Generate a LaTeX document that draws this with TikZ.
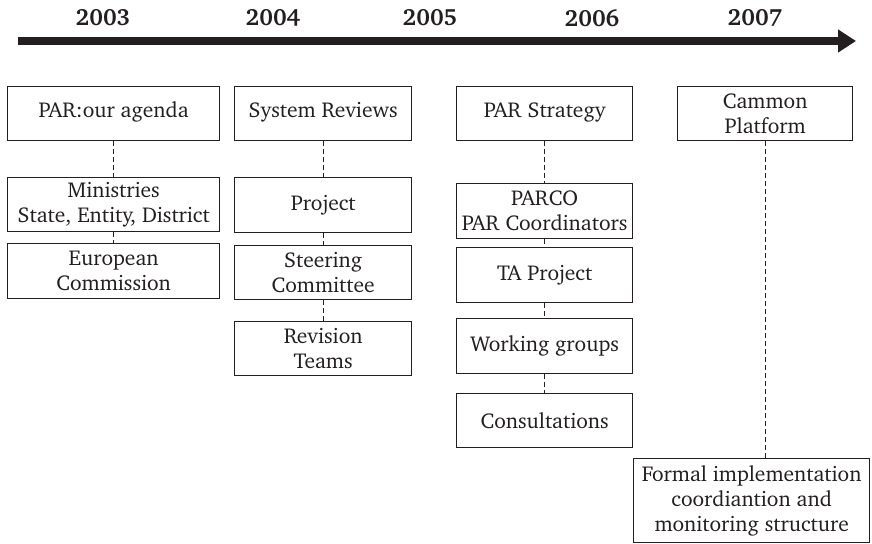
\documentclass[tikz,border=0pt]{standalone}
\usepackage[T1]{fontenc}
\usepackage{charter}
\usetikzlibrary{arrows.meta}
\definecolor{ink}{HTML}{231F20}
\tikzset{
  stage/.style={draw=ink, line width=1.4pt, text=ink, anchor=north west,
    align=center, inner sep=0pt, font=\fontsize{21.5}{25}\selectfont},
  year/.style={text=ink, font=\fontsize{23.5}{26}\selectfont\bfseries},
  link/.style={draw=ink, line width=1.3pt, dash pattern=on 5pt off 3pt},
  timeline/.style={draw=ink, line width=8pt,
    -{Triangle[length=18pt,width=22pt]}}
}
\begin{document}
\begin{tikzpicture}[x=1pt,y=-1pt]
\useasboundingbox (0,0) rectangle (872,543);

% time axis
\coordinate (tl-start) at (18,41);
\coordinate (tl-end) at (856,41);
\draw[timeline] (tl-start) -- (tl-end);
\node[year] (y2003) at (103,18) {2003};
\node[year] (y2004) at (273,18) {2004};
\node[year] (y2005) at (430,18) {2005};
\node[year] (y2006) at (592,18) {2006};
\node[year] (y2007) at (755,18) {2007};

% 2003
\node[stage, minimum width=212pt, minimum height=54pt] (agenda) at (7,86) {\raisebox{8pt}{PAR:our agenda}};
\node[stage, minimum width=212pt, minimum height=54pt] (min) at (7,177) {Ministries\\State, Entity, District};
\node[stage, minimum width=212pt, minimum height=55pt] (ec) at (7,243) {European\\Commission};

% 2004
\node[stage, minimum width=177pt, minimum height=54pt] (sysrev) at (234,86) {\raisebox{8pt}{System Reviews}};
\node[stage, minimum width=177pt, minimum height=55pt] (proj) at (234,177) {Project};
\node[stage, minimum width=177pt, minimum height=54pt] (steer) at (234,245) {Steering\\Committee};
\node[stage, minimum width=177pt, minimum height=54pt] (revis) at (234,321) {Revision\\Teams};

% 2006
\node[stage, minimum width=176pt, minimum height=54pt] (strat) at (456,86) {\raisebox{8pt}{PAR Strategy}};
\node[stage, minimum width=176pt, minimum height=55pt] (parco) at (456,183) {PARCO\\PAR Coordinators};
\node[stage, minimum width=176pt, minimum height=55pt] (ta) at (456,247) {TA Project};
\node[stage, minimum width=176pt, minimum height=55pt] (wg) at (456,318) {Working groups};
\node[stage, minimum width=176pt, minimum height=54pt] (cons) at (456,393) {Consultations};

% 2007
\node[stage, minimum width=175pt, minimum height=54pt] (cammon) at (677,86) {Cammon\\Platform};
\node[stage, minimum width=236pt, minimum height=84pt] (formal) at (633,458) {Formal implementation\\coordiantion and\\monitoring structure};

% dashed links
\draw[link] (agenda) -- (min);
\draw[link] (min) -- (ec);
\draw[link] (sysrev) -- (proj);
\draw[link] (proj) -- (steer);
\draw[link] (steer) -- (revis);
\draw[link] (strat) -- (parco);
\draw[link] (parco) -- (ta);
\draw[link] (ta) -- (wg);
\draw[link] (wg) -- (cons);
\draw[link] (cammon.south) -- (cammon.south |- formal.north);
\end{tikzpicture}
\end{document}
